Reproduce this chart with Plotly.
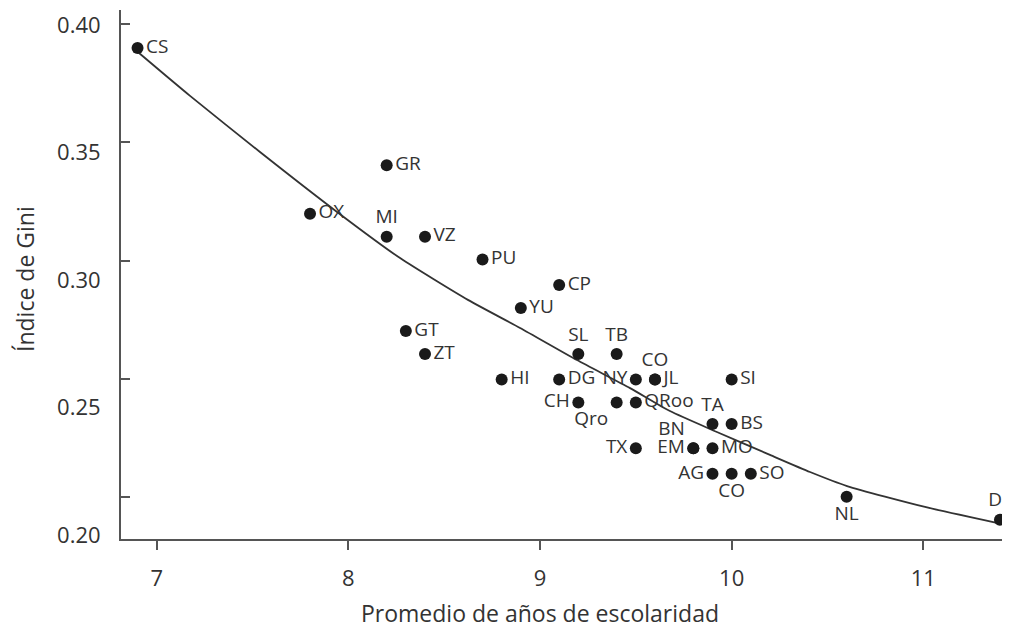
import plotly.graph_objects as go

# ---- data ----
estados = ["CS", "GR", "OX", "MI", "VZ", "PU", "CP", "YU", "GT", "ZT",
           "SL", "TB", "HI", "DG", "NY", "CO", "JL", "SI", "CH", "Qro",
           "QRoo", "TA", "BS", "BN", "EM", "MO", "TX", "AG", "CO", "SO",
           "NL", "DF"]
escolaridad = [6.9, 8.2, 7.8, 8.2, 8.4, 8.7, 9.1, 8.9, 8.3, 8.4,
               9.2, 9.4, 8.8, 9.1, 9.5, 9.6, 9.6, 10.0, 9.2, 9.4,
               9.5, 9.9, 10.0, 9.8, 9.8, 9.9, 9.5, 9.9, 10.0, 10.1,
               10.6, 11.4]
gini = [0.391, 0.345, 0.326, 0.317, 0.317, 0.308, 0.298, 0.289, 0.280, 0.271,
        0.271, 0.271, 0.261, 0.261, 0.261, 0.261, 0.261, 0.261, 0.252, 0.252,
        0.252, 0.2435, 0.2435, 0.234, 0.234, 0.234, 0.234, 0.224, 0.224, 0.224,
        0.215, 0.206]

# smoothed (lowess-like) curve
curva_x = [6.90, 7.174, 7.539, 7.941, 8.270, 8.624, 8.896, 9.193, 9.470,
           9.678, 9.923, 10.200, 10.409, 10.602, 11.009, 11.40]
curva_y = [0.3895, 0.3722, 0.3502, 0.3267, 0.3086, 0.2922, 0.2812, 0.2686,
           0.2576, 0.2486, 0.2404, 0.2314, 0.2247, 0.2192, 0.2110, 0.2045]

x_ticks = [7, 8, 9, 10, 11]
y_ticks = [0.20, 0.25, 0.30, 0.35, 0.40]
y_ticktext = ["0.20", "0.25", "0.30", "0.35", "0.40"]

# ---- styles ----
label_pos = ["middle right", "middle right", "middle right", "top center", "middle right",
             "middle right", "middle right", "middle right", "middle right", "middle right",
             "top center", "top center", "middle right", "middle right", "middle left",
             "top center", "middle right", "middle right", "middle left", "bottom left",
             "middle right", "top center", "middle right", "top left", "middle left",
             "middle right", "middle left", "middle left", "bottom center", "middle right",
             "bottom center", "top center"]

FONT = "Open Sans"
TXT = "#333333"
AX = "#555555"

fig = go.Figure()

fig.add_trace(go.Scatter(
    x=curva_x, y=curva_y, mode="lines",
    line=dict(color="#333333", width=1.8, shape="spline", smoothing=0.6),
    hoverinfo="skip", showlegend=False))

fig.add_trace(go.Scatter(
    x=escolaridad, y=gini, mode="markers+text",
    text=estados, textposition=label_pos,
    textfont=dict(family=FONT, size=19, color=TXT),
    marker=dict(size=12, color="#1a1a1a"),
    cliponaxis=False, showlegend=False))

# invisible trace to activate the tick-mark axis
fig.add_trace(go.Scatter(x=[None], y=[None], yaxis="y2", showlegend=False,
                         hoverinfo="skip"))

# page body has an 8px margin: figure is offset by 8px on screen
fig.update_layout(
    width=1002, height=621,
    margin=dict(l=113, r=0, t=2, b=90),
    paper_bgcolor="white", plot_bgcolor="white",
    font=dict(family=FONT, color=TXT),
    xaxis=dict(range=[6.8137, 11.4524], tickvals=x_ticks,
               ticks="outside", ticklen=9, tickwidth=2, tickcolor=AX,
               showline=True, linecolor=AX, linewidth=2,
               showgrid=False, zeroline=False, ticklabelstandoff=10,
               tickfont=dict(family=FONT, size=22, color=TXT)),
    yaxis=dict(range=[0.19843, 0.40588], tickvals=y_ticks, ticktext=y_ticktext,
               ticks="", showline=True, linecolor=AX, linewidth=2,
               showgrid=False, zeroline=False, ticklabelstandoff=14,
               tickfont=dict(family=FONT, size=22, color=TXT)),
    yaxis2=dict(range=[0.18225, 0.40592], tickvals=y_ticks, overlaying="y",
                side="left", ticks="inside", ticklen=9, tickwidth=2,
                tickcolor=AX, showticklabels=False, showline=False,
                showgrid=False, zeroline=False),
    annotations=[
        dict(text="Promedio de años de escolaridad", xref="paper", yref="paper",
             x=0.4713, y=-0.1399, xanchor="center", yanchor="middle",
             showarrow=False, font=dict(family=FONT, size=23, color=TXT)),
        dict(text="Índice de Gini", xref="paper", yref="paper",
             x=-0.108, y=0.4915, xanchor="center", yanchor="middle",
             textangle=-90, showarrow=False,
             font=dict(family=FONT, size=23, color=TXT)),
    ],
)

fig.write_html("out.html")
